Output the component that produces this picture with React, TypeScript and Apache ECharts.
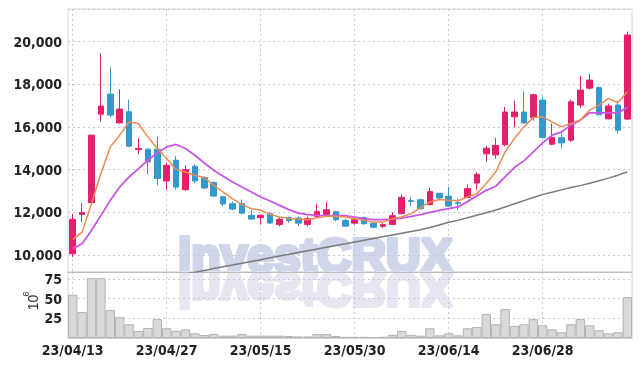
import React, { useEffect, useRef } from 'react';
import * as echarts from 'echarts';

const categories = [
  '23/04/13', '23/04/14', '23/04/17', '23/04/18', '23/04/19', '23/04/20', '23/04/21', '23/04/24', '23/04/25', '23/04/26',
  '23/04/27', '23/04/28', '23/05/02', '23/05/03', '23/05/04', '23/05/08', '23/05/09', '23/05/10', '23/05/11', '23/05/12',
  '23/05/15', '23/05/16', '23/05/17', '23/05/18', '23/05/19', '23/05/22', '23/05/23', '23/05/24', '23/05/25', '23/05/26',
  '23/05/30', '23/05/31', '23/06/01', '23/06/02', '23/06/05', '23/06/07', '23/06/08', '23/06/09', '23/06/12', '23/06/13',
  '23/06/14', '23/06/15', '23/06/16', '23/06/19', '23/06/20', '23/06/21', '23/06/22', '23/06/23', '23/06/26', '23/06/27',
  '23/06/28', '23/06/29', '23/06/30', '23/07/03', '23/07/04', '23/07/05', '23/07/06', '23/07/07', '23/07/10', '23/07/11',
];

// [open, close, low, high]
const ohlc = [
  [10055, 11667, 9895, 11935], [11900, 11980, 11540, 12430], [12450, 15615, 12450, 15650], [16600, 16980, 16240, 19455],
  [17540, 16555, 16445, 18800], [16190, 16840, 16165, 17765], [16710, 15100, 15050, 17290], [14940, 14990, 14720, 15450],
  [14960, 14360, 13770, 14990], [14960, 13580, 13265, 15535], [13470, 14205, 13060, 14330], [14440, 13185, 13060, 14630],
  [13060, 14000, 13000, 14200], [14160, 13470, 13370, 14250], [13630, 13140, 13080, 13690], [13400, 12760, 12720, 13450],
  [12730, 12390, 12280, 12760], [12400, 12150, 12100, 12500], [12400, 11960, 11900, 12600], [11860, 11680, 11650, 12090],
  [11750, 11860, 11430, 11880], [11935, 11495, 11450, 12000], [11430, 11670, 11340, 11780], [11750, 11620, 11500, 11800],
  [11730, 11490, 11350, 11800], [11430, 11700, 11340, 11800], [11810, 12030, 11780, 12400], [11900, 12120, 11850, 12480],
  [12030, 11650, 11580, 12050], [11620, 11350, 11320, 11700], [11490, 11650, 11420, 11780], [11750, 11465, 11400, 11800],
  [11490, 11300, 11250, 11500], [11340, 11420, 11270, 11500], [11430, 11840, 11400, 12010], [11935, 12700, 11900, 12840],
  [12550, 12510, 12280, 12715], [12590, 12170, 12120, 12650], [12360, 12970, 12330, 13160], [12890, 12670, 12600, 12900],
  [12750, 12290, 12250, 13185], [12450, 12420, 12090, 12640], [12690, 13110, 12680, 13310], [13370, 13780, 13060, 13880],
  [14740, 15000, 14360, 15110], [14690, 15130, 14520, 15490], [15160, 16700, 15100, 16945], [16475, 16700, 16000, 17230],
  [16700, 16190, 16150, 17670], [16450, 17510, 16300, 17550], [17260, 15510, 15450, 17415], [15190, 15510, 15150, 16165],
  [15490, 15250, 14990, 15700], [15380, 17180, 15300, 17290], [17025, 17730, 16900, 18390], [17820, 18200, 17750, 18480],
  [17840, 16570, 16550, 17900], [16380, 16980, 16350, 17100], [17025, 15850, 15690, 17230], [16370, 20315, 16330, 20470],
];

const ma5 = [
  10720, 11070, 12405, 13815, 15065, 15615, 16240, 16150, 15535, 14990,
  14520, 14003, 13890, 13735, 13627, 13265, 12950, 12640, 12358, 12170,
  12100, 11902, 11775, 11714, 11680, 11653, 11747, 11808, 11808, 11775,
  11700, 11620, 11540, 11540, 11700, 11775, 11935, 12215, 12480, 12600,
  12560, 12540, 12715, 12875, 13345, 13890, 14830, 15460, 16005, 16447,
  16475, 16240, 16005, 16165, 16320, 16790, 17025, 17340, 17133, 17650,
];

const ma20 = [
  10290, 10525, 11150, 11855, 12560, 13185, 13655, 14050, 14440, 14783,
  15065, 15178, 14990, 14675, 14313, 13970, 13688, 13420, 13185, 12950,
  12715, 12527, 12325, 12122, 11963, 11888, 11855, 11840, 11840, 11840,
  11775, 11700, 11653, 11653, 11680, 11730, 11808, 11888, 11996, 12090,
  12170, 12250, 12500, 12770, 13030, 13220, 13655, 14110, 14410, 14830,
  15253, 15615, 15770, 16085, 16320, 16663, 16663, 16663, 16663, 16917,
];

const ma60 = [
  8100, 8185, 8270, 8355, 8440, 8525, 8610, 8695, 8780, 8865,
  8950, 9035, 9110, 9191, 9275, 9359, 9443, 9527, 9611, 9695,
  9779, 9863, 9947, 10031, 10115, 10197, 10279, 10361, 10443, 10524,
  10606, 10688, 10770, 10851, 10933, 11015, 11097, 11177, 11290, 11400,
  11530, 11620, 11740, 11860, 11980, 12110, 12250, 12400, 12545, 12690,
  12840, 12940, 13050, 13160, 13250, 13360, 13480, 13600, 13740, 13890,
];

const volume = [
  55, 33, 76.5, 76.5, 35.5, 26.5, 17.5, 9, 12.8, 24,
  12.4, 9, 11, 6, 3.8, 5, 3, 3, 5, 3,
  3, 3, 3, 2.5, 2, 2, 5, 5, 2.5, 1.5,
  1.5, 1.5, 1, 1.5, 4, 9, 4, 3, 12.4, 3.4,
  6, 3.4, 12.4, 14, 30.4, 17.5, 36.8, 15.4, 17.5, 24,
  16.2, 11, 7.3, 17.5, 24, 16.2, 9.8, 6, 7.3, 52,
];

const UP = '#e2216c';
const DOWN = '#3399cc';

export default function App() {
  const ref = useRef<HTMLDivElement>(null);
  useEffect(() => {
    const chart = echarts.init(ref.current as HTMLDivElement, null, { renderer: 'svg' });
    const font = "'Liberation Sans Narrow', 'DejaVu Sans Condensed', sans-serif";
    const labelStyle = { color: '#222', fontWeight: 'bold' as const, fontSize: 14, fontFamily: font };
    const gridLine = { color: '#c6c9da', type: [2, 3], width: 1 };
    const wmStyle = { fontWeight: 'bold', fontSize: 48, fontFamily: "'Liberation Sans', Arial, sans-serif", verticalAlign: 'middle', lineWidth: 4 };
    chart.setOption({
      animation: false,
      grid: [
        { left: 68, top: 9, width: 564, height: 263, show: true, borderColor: '#d4d4dc', borderWidth: 1 },
        { left: 68, top: 272, width: 564, height: 66, show: true, borderColor: '#d4d4dc', borderWidth: 1 },
      ],
      xAxis: [
        {
          type: 'category', gridIndex: 0, data: categories, boundaryGap: true,
          axisLine: { show: true, lineStyle: { color: '#bdbdbd', width: 1 } },
          axisTick: { show: false }, axisLabel: { show: false },
          splitLine: { show: true, interval: 9, alignWithLabel: true, lineStyle: gridLine },
        },
        {
          type: 'category', gridIndex: 1, data: categories, boundaryGap: true,
          axisLine: { show: true, lineStyle: { color: '#d4d4dc' } },
          axisTick: { show: false },
          axisLabel: { interval: 9, margin: 5, ...labelStyle },
          splitLine: { show: true, interval: 9, alignWithLabel: true, lineStyle: gridLine },
        },
      ],
      yAxis: [
        {
          type: 'value', gridIndex: 0, min: 9200, max: 21530,
          axisLine: { show: false }, axisTick: { show: false },
          splitLine: { show: true, lineStyle: gridLine },
          axisLabel: {
            ...labelStyle, margin: 6, showMinLabel: false, showMaxLabel: false,
            formatter: (v: number) => (v % 2000 === 0 ? v.toLocaleString('en-US') : ''),
          },
        },
        {
          type: 'value', gridIndex: 1, min: 0, max: 84, interval: 25,
          axisLine: { show: false }, axisTick: { show: false },
          splitLine: { show: true, lineStyle: gridLine },
          axisLabel: {
            ...labelStyle, margin: 6, showMaxLabel: false,
            formatter: (v: number) => (v > 0 && v % 25 === 0 ? String(v) : ''),
          },
        },
      ],
      graphic: [
        {
          type: 'text', x: 178, y: 255, z: 0, silent: true,
          style: { text: 'investCRUX', fill: '#d0d6ea', stroke: '#d0d6ea', ...wmStyle },
        },
        {
          type: 'group', x: 0, y: 272, scaleY: -1, z: 0, silent: true,
          children: [
            {
              type: 'text', x: 178, y: -17, z: 0,
              style: { text: 'investCRUX', fill: '#e6e7f0', stroke: '#e6e7f0', ...wmStyle },
            },
          ],
        },
        {
          type: 'text', x: 33, y: 302.5, rotation: Math.PI / 2, z: 10,
          style: { text: '10', fill: '#333', fontSize: 14, fontFamily: "'Liberation Sans', sans-serif", align: 'center', verticalAlign: 'middle' },
        },
        {
          type: 'text', x: 25.5, y: 294, rotation: Math.PI / 2, z: 10,
          style: { text: '6', fill: '#333', fontSize: 9, fontFamily: "'Liberation Sans', sans-serif", align: 'center', verticalAlign: 'middle' },
        },
      ],
      series: [
        {
          type: 'bar', xAxisIndex: 1, yAxisIndex: 1, data: volume, barCategoryGap: '0%',
          itemStyle: { color: '#d9d9d9', borderColor: '#b3b3b3', borderWidth: 1 },
        },
        {
          type: 'candlestick', xAxisIndex: 0, yAxisIndex: 0, data: ohlc, barWidth: 6,
          itemStyle: { color: UP, color0: DOWN, borderColor: UP, borderColor0: DOWN, borderWidth: 1 },
        },
        {
          type: 'line', xAxisIndex: 0, yAxisIndex: 0, data: ma60, showSymbol: false, z: 3,
          lineStyle: { color: '#7a7a7a', width: 1.5 },
        },
        {
          type: 'line', xAxisIndex: 0, yAxisIndex: 0, data: ma20, showSymbol: false, z: 3,
          lineStyle: { color: '#c955e8', width: 1.8 },
        },
        {
          type: 'line', xAxisIndex: 0, yAxisIndex: 0, data: ma5, showSymbol: false, z: 3,
          lineStyle: { color: '#ef8a52', width: 1.5 },
        },
      ],
    });
    return () => chart.dispose();
  }, []);
  return <div ref={ref} style={{ position: 'fixed', left: 0, top: 0, width: 642, height: 366 }} />;
}
